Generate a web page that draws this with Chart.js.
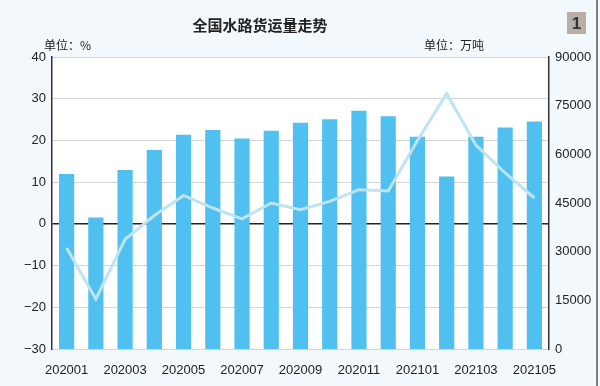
<!DOCTYPE html>
<html>
<head>
<meta charset="utf-8">
<script src="https://cdn.jsdelivr.net/npm/chart.js@4"></script>
<style>
  html, body { margin: 0; padding: 0; background: #f3f8fc; }
  #chart { display: block; }
</style>
</head>
<body>
<canvas id="chart" width="600" height="386"></canvas>
<script>
const months = ["202001", "202002", "202003", "202004", "202005", "202006", "202007", "202008", "202009",
  "202010", "202011", "202012", "202101", "202102", "202103", "202104", "202105"];
// freight volume, 万吨 (right axis)
const volume = [53900, 40500, 55200, 61300, 66000, 67500, 64900, 67300, 69700,
  70800, 73400, 71700, 65400, 53200, 65400, 68300, 70100];
// year-on-year growth, % (left axis)
const growth = [-5.8, -18.0, -3.7, 2.0, 6.8, 3.8, 1.2, 5.0, 3.4,
  5.4, 8.2, 7.9, 20.0, 31.2, 18.9, 12.2, 6.2];

const font = "'Liberation Sans', Arial, sans-serif";
const cjk = "'Noto Sans CJK SC', sans-serif";

// background, plot area, title, units, badge
const decor = {
  id: "decor",
  beforeDraw(chart) {
    const { ctx, chartArea: a } = chart;
    ctx.save();
    ctx.fillStyle = "#f3f8fc";
    ctx.fillRect(0, 0, chart.width, chart.height);
    ctx.fillStyle = "#ffffff";
    ctx.fillRect(a.left, a.top, a.right - a.left, a.bottom - a.top);
    ctx.restore();
  },
  afterDraw(chart) {
    const { ctx } = chart;
    ctx.save();
    ctx.fillStyle = "#222";
    ctx.textBaseline = "middle";
    ctx.font = "bold 15px " + cjk;
    ctx.textAlign = "center";
    ctx.fillText("全国水路货运量走势", 260, 25);
    ctx.font = "12px " + cjk;
    ctx.textAlign = "left";
    ctx.fillText("单位：%", 44, 45);
    ctx.fillText("单位：万吨", 424, 45);
    // badge
    ctx.fillStyle = "#b8aea9";
    ctx.fillRect(567, 12, 19, 22);
    ctx.fillStyle = "#333";
    ctx.font = "bold 17px " + font;
    ctx.textAlign = "center";
    ctx.fillText("1", 576.5, 24);
    // right frame edge
    ctx.strokeStyle = "#555";
    ctx.lineWidth = 1.5;
    ctx.beginPath();
    ctx.moveTo(597, 0);
    ctx.lineTo(597, 386);
    ctx.stroke();
    ctx.restore();
  }
};

new Chart(document.getElementById("chart"), {
  data: {
    labels: months,
    datasets: [{
      type: "line",
      data: growth,
      yAxisID: "yL",
      borderColor: "#bde3f4",
      borderWidth: 3,
      pointRadius: 0,
      tension: 0,
      order: 1
    }, {
      type: "bar",
      data: volume,
      yAxisID: "yR",
      backgroundColor: "#4fc0ef",
      categoryPercentage: 1,
      barPercentage: 0.52,
      order: 2
    }]
  },
  options: {
    responsive: false,
    animation: false,
    layout: { padding: { top: 57, right: 0, left: 0, bottom: 0 } },
    plugins: { legend: { display: false }, tooltip: { enabled: false } },
    scales: {
      x: {
        grid: { display: false },
        border: { display: false },
        afterFit(s) { s.height = 37; },
        ticks: {
          autoSkip: false,
          maxRotation: 0,
          padding: 6,
          color: "#222",
          font: { family: font, size: 13 },
          callback(v, i) { return i % 2 === 0 ? months[i] : ""; }
        }
      },
      yL: {
        position: "left",
        min: -30,
        max: 40,
        afterFit(s) { s.width = 52; },
        border: { display: true, color: "#333", width: 1.5 },
        grid: {
          drawTicks: false,
          color: (c) => c.tick.value === 0 ? "#222" : "#d6d6d6",
          lineWidth: (c) => c.tick.value === 0 ? 1.5 : 1
        },
        ticks: {
          stepSize: 10,
          padding: 6,
          color: "#222",
          font: { family: font, size: 13 },
          callback: (v) => v < 0 ? "\u2212" + Math.abs(v) : v
        }
      },
      yR: {
        position: "right",
        min: 0,
        max: 90000,
        afterFit(s) { s.width = 51; },
        border: { display: true, color: "#333", width: 1.5 },
        grid: { display: false, drawTicks: false },
        ticks: {
          stepSize: 15000,
          padding: 6,
          color: "#222",
          font: { family: font, size: 13 },
          callback: (v) => String(v)
        }
      }
    }
  },
  plugins: [decor]
});
</script>
</body>
</html>
